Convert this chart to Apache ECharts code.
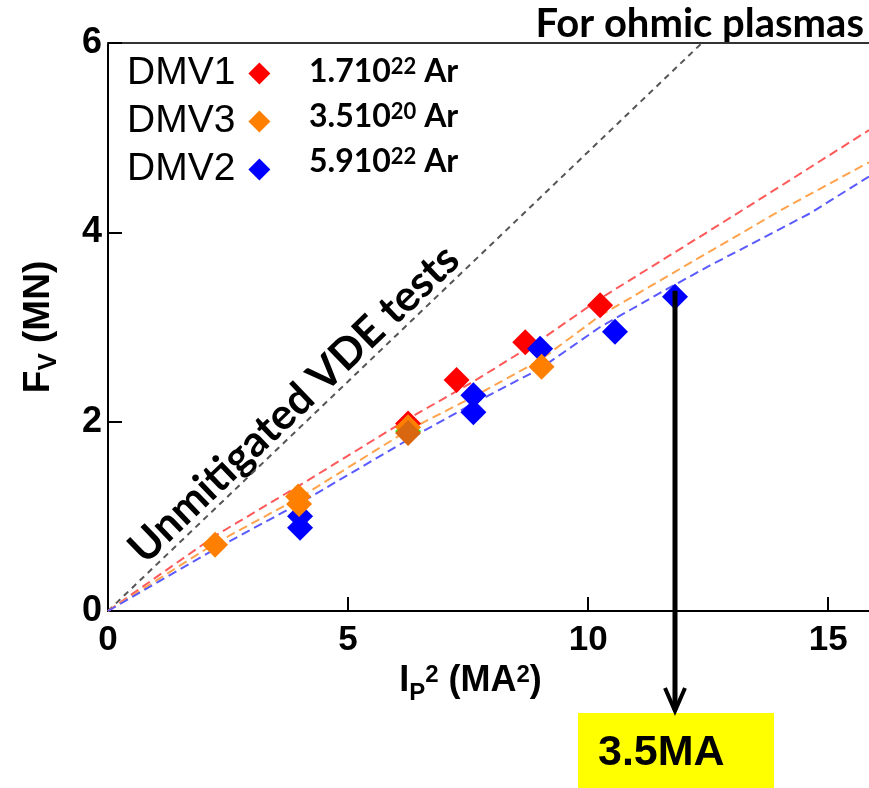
<!DOCTYPE html>
<html>
<head>
<meta charset="utf-8">
<script src="https://cdn.jsdelivr.net/npm/echarts@6/dist/echarts.min.js"></script>
<style>
  html, body { margin: 0; padding: 0; background: #fff; }
  #main { width: 869px; height: 788px; }
</style>
</head>
<body>
<div id="main"></div>
<script>
// axis ranges / ticks
var xMax = 15.85
var yTicks = [0, 2, 4, 6]

// measured points  [Ip^2 (MA^2), Fv (MN)]
var dmv1Points = [[6.25, 1.98], [7.26, 2.44], [8.69, 2.84], [10.25, 3.23]]
var dmv3Points = [[2.23, 0.70], [3.98, 1.13], [3.96, 1.21], [6.25, 1.94], [9.03, 2.58]]
var dmv2Points = [[4.0, 0.88], [4.0, 1.0], [7.61, 2.10], [7.61, 2.28], [9.0, 2.77], [10.56, 2.95], [11.81, 3.32]]
var greenPoints = [[6.25, 1.90]]
var overlapPoints = [[6.25, 1.88]]

// fitted curves
var dmv1Fit = [[0, 0], [2.25, 0.80], [4, 1.33], [6.25, 2.03], [7.6, 2.42], [9, 2.86], [10.25, 3.30], [12.54, 4.02], [14.14, 4.53], [15.85, 5.08]]
var dmv3Fit = [[0, 0], [2.25, 0.72], [4, 1.20], [6.25, 1.91], [7.6, 2.26], [9, 2.65], [10.25, 3.12], [12.54, 3.80], [14.14, 4.27], [15.85, 4.74]]
var dmv2Fit = [[0, 0], [2.25, 0.66], [4, 1.14], [6.25, 1.81], [7.6, 2.19], [9, 2.56], [10.25, 3.0], [11.64, 3.40], [12.54, 3.65], [14.62, 4.20], [15.85, 4.59]]
var vdeLine = [[0, 0], [12.37, 6]]

// point the arrow starts from (3.5 MA case)
var arrowFrom = [11.81, 3.32]

var chart = echarts.init(document.getElementById('main'))

var labelFont = 'Liberation Sans'
var calibriLike = 'Lato'

function fitSeries(name, data, color) {
  return {
    name: name,
    type: 'line',
    data: data,
    showSymbol: false,
    silent: true,
    z: 2,
    lineStyle: { color: color, width: 2, type: [9, 5] }
  }
}

function pointSeries(name, data, color, z) {
  return {
    name: name,
    type: 'scatter',
    data: data,
    symbol: 'diamond',
    symbolSize: 26,
    z: z,
    itemStyle: { color: color, opacity: 1 }
  }
}

chart.setOption({
  animation: false,
  grid: {
    left: 108,
    right: 0,
    top: 43,
    bottom: 177,
    outerBoundsMode: 'none'
  },
  legend: {
    orient: 'vertical',
    left: 127,
    top: 54,
    padding: 0,
    align: 'right',
    icon: 'diamond',
    itemWidth: 22,
    itemHeight: 22,
    itemGap: 9,
    data: ['DMV1', 'DMV3', 'DMV2'],
    itemStyle: { opacity: 1 },
    textStyle: {
      fontFamily: labelFont,
      fontSize: 39,
      color: '#000',
      lineHeight: 36,
      padding: [0, 8, 0, 0]
    }
  },
  xAxis: [
    {
      type: 'value',
      min: 0,
      max: xMax,
      interval: 5,
      name: '{b|I}{s|P}{sup|2}{b| (MA}{sup|2}{b|)}',
      nameLocation: 'middle',
      nameGap: 40,
      nameTextStyle: {
        padding: [0, 36, 0, 0],
        rich: {
          b: { fontFamily: labelFont, fontWeight: 'bold', fontSize: 36, color: '#000', lineHeight: 36, verticalAlign: 'top' },
          s: { fontFamily: labelFont, fontWeight: 'bold', fontSize: 24, color: '#000', lineHeight: 24, padding: [18, 0, 0, 0], verticalAlign: 'top' },
          sup: { fontFamily: labelFont, fontWeight: 'bold', fontSize: 24, color: '#000', lineHeight: 20, verticalAlign: 'top' }
        }
      },
      axisLine: { onZero: false, lineStyle: { color: '#000', width: 2 } },
      axisTick: { inside: true, length: 14, lineStyle: { color: '#000', width: 2 } },
      axisLabel: {
        margin: 12,
        fontFamily: labelFont,
        fontWeight: 'bold',
        fontSize: 35,
        color: '#000',
        showMaxLabel: false
      },
      splitLine: { show: false }
    },
    {
      type: 'value',
      position: 'top',
      min: 0,
      max: xMax,
      axisLine: { show: true, onZero: false, lineStyle: { color: '#333', width: 2 } },
      axisTick: { show: false },
      axisLabel: { show: false },
      splitLine: { show: false }
    }
  ],
  yAxis: {
    type: 'value',
    min: yTicks[0],
    max: yTicks[yTicks.length - 1],
    interval: 2,
    name: '{b|F}{s|V}{b| (MN)}',
    nameLocation: 'middle',
    nameGap: 52,
    nameRotate: 90,
    nameTextStyle: {
      rich: {
        b: { fontFamily: labelFont, fontWeight: 'bold', fontSize: 37, color: '#000', lineHeight: 36, verticalAlign: 'top' },
        s: { fontFamily: labelFont, fontWeight: 'bold', fontSize: 26, color: '#000', lineHeight: 24, padding: [16, 0, 0, 0], verticalAlign: 'top' }
      }
    },
    axisLine: { show: true, onZero: false, lineStyle: { color: '#000', width: 2 } },
    axisTick: { inside: true, length: 14, lineStyle: { color: '#000', width: 2 } },
    axisLabel: {
      margin: 6,
      fontFamily: labelFont,
      fontWeight: 'bold',
      fontSize: 36,
      color: '#000'
    },
    splitLine: { show: false }
  },
  series: [
    {
      name: 'Unmitigated',
      type: 'line',
      data: vdeLine,
      showSymbol: false,
      silent: true,
      z: 1,
      lineStyle: { color: '#555', width: 2, type: [6, 5] }
    },
    fitSeries('DMV1 fit', dmv1Fit, '#ff5a5a'),
    fitSeries('DMV3 fit', dmv3Fit, '#ffa34d'),
    fitSeries('DMV2 fit', dmv2Fit, '#5a5aff'),
    pointSeries('Green', greenPoints, '#22ee22', 3),
    pointSeries('DMV1', dmv1Points, '#ff0000', 4),
    pointSeries('DMV2', dmv2Points, '#0000ff', 5),
    pointSeries('DMV3', dmv3Points, '#ff8000', 6),
    pointSeries('Overlap', overlapPoints, '#d9670f', 7)
  ]
})

// annotations that sit outside the data marks
var start = chart.convertToPixel({ xAxisIndex: 0, yAxisIndex: 0 }, arrowFrom)
var ax = Math.round(start[0])
var tipY = 712

var supRich = function (color) {
  return {
    t: { fontFamily: calibriLike, fontWeight: 'bold', fontSize: 32, color: color, lineHeight: 32, verticalAlign: 'top' },
    sup: { fontFamily: calibriLike, fontWeight: 'bold', fontSize: 22, color: color, lineHeight: 18, verticalAlign: 'top' }
  }
}

chart.setOption({
  graphic: [
    {
      type: 'text',
      x: 864,
      y: 24,
      style: {
        text: 'For ohmic plasmas',
        fontFamily: calibriLike,
        fontWeight: 'bold',
        fontSize: 40,
        fill: '#000',
        align: 'right',
        verticalAlign: 'middle'
      }
    },
    {
      type: 'text',
      x: 309,
      y: 72,
      style: { text: '{t|1.710}{sup|22}{t| Ar}', rich: supRich('#ff0000'), verticalAlign: 'middle' }
    },
    {
      type: 'text',
      x: 309,
      y: 117,
      style: { text: '{t|3.510}{sup|20}{t| Ar}', rich: supRich('#e8761c'), verticalAlign: 'middle' }
    },
    {
      type: 'text',
      x: 309,
      y: 162,
      style: { text: '{t|5.910}{sup|22}{t| Ar}', rich: supRich('#0000ff'), verticalAlign: 'middle' }
    },
    {
      type: 'text',
      x: 294,
      y: 404,
      rotation: Math.PI * 43.7 / 180,
      style: {
        text: 'Unmitigated VDE tests',
        fontFamily: calibriLike,
        fontWeight: 'bold',
        fontSize: 43,
        fill: '#000',
        align: 'center',
        verticalAlign: 'middle'
      }
    },
    {
      type: 'line',
      shape: { x1: ax, y1: start[1] - 6, x2: ax, y2: tipY - 2 },
      style: { stroke: '#000', lineWidth: 5 },
      z: 20
    },
    {
      type: 'polyline',
      shape: { points: [[ax - 10, tipY - 24], [ax, tipY - 1], [ax + 10, tipY - 24]] },
      style: { stroke: '#000', lineWidth: 4, fill: null },
      z: 20
    },
    {
      type: 'rect',
      shape: { x: 578, y: 713, width: 196, height: 80 },
      style: { fill: '#ffff00' },
      z: 10
    },
    {
      type: 'text',
      x: 598,
      y: 753,
      z: 11,
      style: {
        text: '3.5MA',
        fontFamily: labelFont,
        fontWeight: 'bold',
        fontSize: 43,
        fill: '#000',
        verticalAlign: 'middle'
      }
    }
  ]
})
</script>
</body>
</html>
